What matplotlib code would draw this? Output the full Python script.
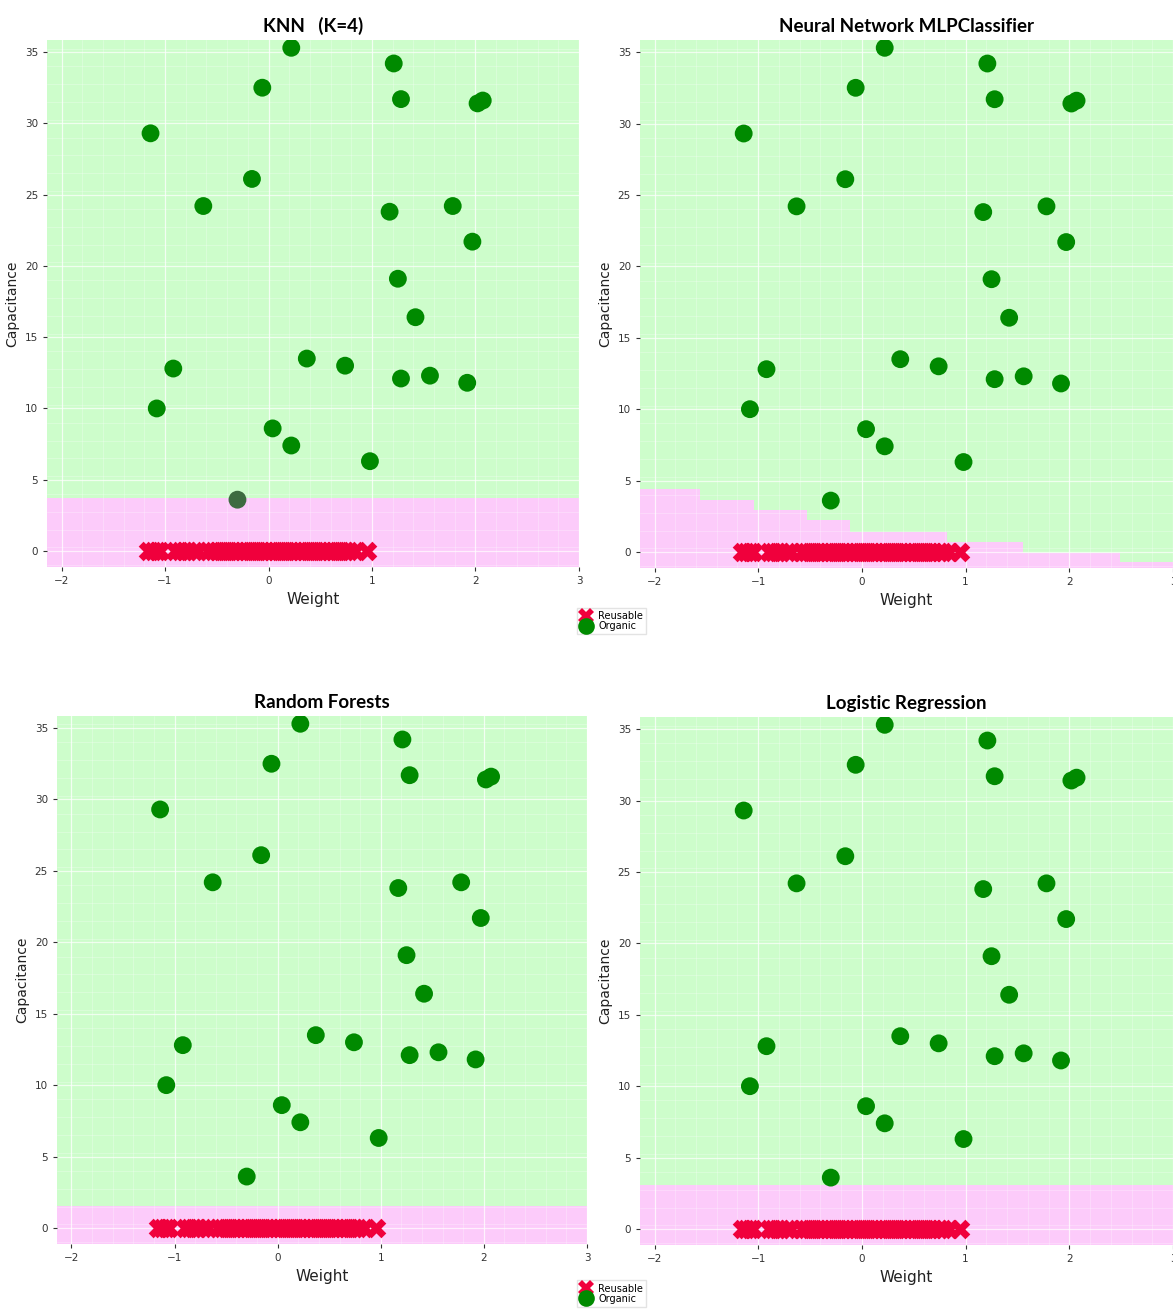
import numpy as np
import matplotlib
matplotlib.use("Agg")
import matplotlib.pyplot as plt
from matplotlib.colors import ListedColormap
from matplotlib.lines import Line2D

# Organic samples (weight, capacitance)
org_w = [0.22, 1.21, -0.06, 1.28, 2.02, 2.07, -1.14, -0.16, -0.63, 1.17, 1.78, 1.97,
         1.25, 1.42, 0.37, -0.92, 0.74, 1.28, 1.56, 1.92, -1.08, 0.04, 0.22, 0.98, -0.30]
org_c = [35.3, 34.2, 32.5, 31.7, 31.4, 31.6, 29.3, 26.1, 24.2, 23.8, 24.2, 21.7,
         19.1, 16.4, 13.5, 12.8, 13.0, 12.1, 12.3, 11.8, 10.0, 8.6, 7.4, 6.3, 3.6]

# Reusable samples (all at capacitance 0)
reu_w = [-1.16, -1.12, -1.08, -1.05, -0.90, -0.86, -0.82, -0.78, -0.72, -0.68,
         -0.58, -0.54, -0.50, -0.46, -0.42, -0.38, -0.34, -0.30, -0.26, -0.22,
         -0.18, -0.14, -0.10, -0.06, -0.02, 0.02, 0.06, 0.10, 0.14, 0.18, 0.22,
         0.26, 0.30, 0.34, 0.38, 0.42, 0.46, 0.50, 0.54, 0.58, 0.62, 0.66, 0.70,
         0.74, 0.78, 0.84, 0.95]
reu_c = [0.0] * len(reu_w)

# decision boundaries
knn_limit = 3.75
mlp_edges = [-1.57, -1.05, -0.53, -0.12, 0.82, 1.55, 2.48]
mlp_levels = [4.44, 3.67, 2.93, 2.21, 1.44, 0.70, -0.05, -0.74]
rf_limit = 1.55
lr_limit = 3.1

titles = ["KNN   (K=4)", "Neural Network MLPClassifier", "Random Forests", "Logistic Regression"]

xlim = (-2.14, 3.0)
ylim = (-1.12, 35.85)

def limit(name, x):
    x = np.asarray(x, dtype=float)
    if name == "knn":
        return np.full_like(x, knn_limit)
    if name == "mlp":
        return np.array(mlp_levels)[np.digitize(x, mlp_edges)]
    if name == "rf":
        return np.full_like(x, rf_limit)
    return np.full_like(x, lr_limit)

xx, yy = np.meshgrid(np.arange(-2.2, 3.05, 0.01), np.arange(-1.2, 36.0, 0.05))

cmap_bg = ListedColormap(["#FCCBFA", "#CDFDCB"])

fig = plt.figure(figsize=(11.73, 13.10), dpi=100)
rects = [[0.0401, 0.5672, 0.4535, 0.4023],
         [0.5456, 0.5664, 0.4544, 0.4031],
         [0.0486, 0.0504, 0.4518, 0.4031],
         [0.5456, 0.0496, 0.4544, 0.4031]]
names = ["knn", "mlp", "rf", "lr"]

for rect, name, title in zip(rects, names, titles):
    ax = fig.add_axes(rect)
    z = (yy > limit(name, xx)).astype(int)
    ax.pcolormesh(xx, yy, z, cmap=cmap_bg, shading="auto", vmin=0, vmax=1, zorder=0)
    # faint white mesh lines
    for gx in np.arange(-2.2, 3.05, 0.2):
        ax.axvline(gx, color="white", lw=0.4, alpha=0.45, zorder=1)
    for gy in np.arange(-1, 36, 1.25):
        ax.axhline(gy, color="white", lw=0.4, alpha=0.45, zorder=1)
    ax.grid(True, color="white", lw=0.9, alpha=0.7, zorder=1)
    ax.scatter(reu_w, reu_c, marker="X", s=200, color="#F0003C", zorder=3, linewidths=0)
    # organic points inside the reusable region look tinted
    inside = np.array(org_c) < limit(name, org_w)
    cols = np.where(inside, "#3D6B40", "#008A00")
    ax.scatter(org_w, org_c, marker="o", s=165, c=list(cols), zorder=3, linewidths=0)
    ax.set_xlim(xlim)
    ax.set_ylim(ylim)
    ax.set_xticks(range(-2, 4))
    ax.set_yticks(range(0, 36, 5))
    ax.set_xticklabels(["\u22122", "\u22121", "0", "1", "2", "3"])
    ax.tick_params(labelsize=7.5, colors="#333333", length=3, width=0.8)
    for s in ax.spines.values():
        s.set_visible(False)
    ax.set_xlabel("Weight", fontsize=11, color="#222222", labelpad=4)
    ax.set_ylabel("Capacitance", fontsize=10, color="#222222", labelpad=4)
    ax.set_title(title, fontsize=13.5, fontweight="bold", family="Lato", pad=6)

handles = [Line2D([], [], marker="X", color="#F0003C", ls="", markersize=12, markeredgewidth=0),
           Line2D([], [], marker="o", color="#008A00", ls="", markersize=12, markeredgewidth=0)]
for yc in (0.526, 0.0125):
    fig.legend(handles, ["Reusable", "Organic"], loc="center", bbox_to_anchor=(0.5215, yc),
               fontsize=7, frameon=True, edgecolor="#DDDDDD", fancybox=False,
               handletextpad=0.6, labelspacing=0.0, borderpad=0.35, handlelength=1.2)

fig.savefig("out.png", dpi=100)
